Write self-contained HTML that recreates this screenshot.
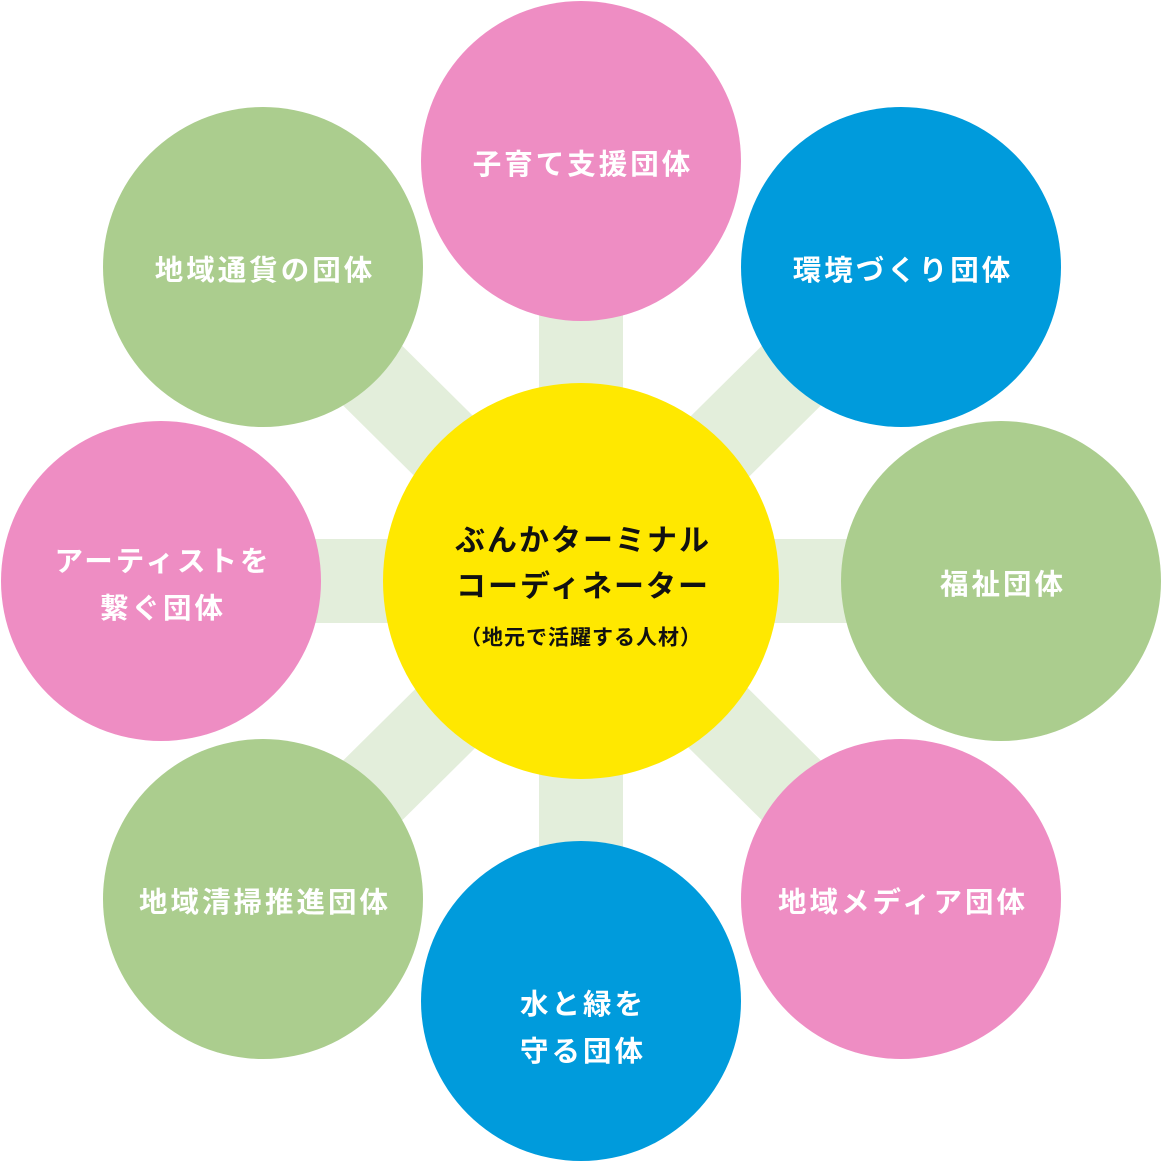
<!DOCTYPE html>
<html><head><meta charset="utf-8"><style>
html,body{margin:0;padding:0;background:#fff;}
svg{display:block}
text{font-family:"Liberation Sans","Noto Sans CJK JP",sans-serif;text-anchor:middle;dominant-baseline:central;}
.w{fill:#fff;font-size:28.5px;letter-spacing:3px;font-weight:bold}
.b{fill:#111;font-size:30px;letter-spacing:2px;font-weight:bold}
</style></head><body>
<svg width="1162" height="1162" viewBox="0 0 1162 1162">
<g stroke="#e3eedb" stroke-width="84">
<line x1="581" y1="161" x2="581" y2="1001"/>
<line x1="161" y1="581" x2="1001" y2="581"/>
<line x1="263" y1="267" x2="901" y2="899"/>
<line x1="901" y1="267" x2="263" y2="899"/>
</g>
<circle cx="581" cy="161" r="160" fill="#ee8dc3"/>
<circle cx="901" cy="267" r="160" fill="#009bdc"/>
<circle cx="1001" cy="581" r="160" fill="#abcd8e"/>
<circle cx="901" cy="899" r="160" fill="#ee8dc3"/>
<circle cx="581" cy="1001" r="160" fill="#009bdc"/>
<circle cx="263" cy="899" r="160" fill="#abcd8e"/>
<circle cx="161" cy="581" r="160" fill="#ee8dc3"/>
<circle cx="263" cy="267" r="160" fill="#abcd8e"/>
<circle cx="581" cy="581" r="198" fill="#ffe800"/>
<text class="w" x="583" y="165">子育て支援団体</text>
<text class="w" x="903" y="271">環境づくり団体</text>
<text class="w" x="1003" y="585">福祉団体</text>
<text class="w" x="903" y="903">地域メディア団体</text>
<text class="w" x="583" y="1005">水と緑を</text>
<text class="w" x="583" y="1052">守る団体</text>
<text class="w" x="265" y="903">地域清掃推進団体</text>
<text class="w" x="163" y="562">アーティストを</text>
<text class="w" x="163" y="609">繋ぐ団体</text>
<text class="w" x="265" y="271">地域通貨の団体</text>
<text class="b" x="583" y="541">ぶんかターミナル</text>
<text class="b" x="583" y="587">コーディネーター</text>
<text class="b" x="581" y="638" style="font-size:21px;letter-spacing:1px">（地元で活躍する人材）</text>
</svg>
</body></html>
